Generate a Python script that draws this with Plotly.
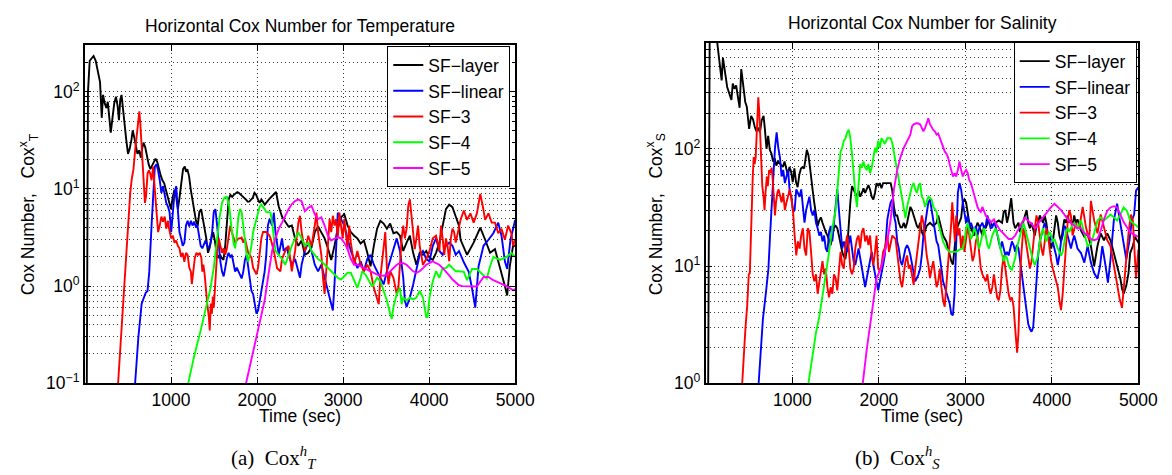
import plotly.graph_objects as go

# ---------------- Left panel: Horizontal Cox number for Temperature ----------------
T_layer_t = [20,35,55,80,100,125,150,175,195,210,230,250,265,285,300,320,340,360,380,395,
 410,425,440,460,480,500,520,540,555,570,590,610,630,650,665,680,700,720,740,760,
 780,800,820,840,860,880,900,920,940,960,980,1000,1020,1040,1060,1080,1100,1120,1140,1160,
 1175,1190,1210,1230,1250,1270,1290,1310,1330,1350,1370,1390,1410,1430,1450,1470,1490,1510,1530,1550,
 1570,1590,1610,1630,1650,1670,1690,1710,1730,1750,1770,1790,1810,1830,1850,1870,1890,1910,1930,1950,
 1970,1990,2010,2030,2050,2070,2090,2138,2195,2221,2252,2290,2328,2366,2404,2442,2480,2518,2556,2595,
 2633,2671,2709,2747,2785,2824,2862,2900,2938,2976,3014,3052,3090,3128,3166,3204,3242,3281,3319,3357,
 3395,3433,3471,3509,3547,3585,3623,3661,3699,3738,3776,3814,3852,3890,3928,3966,4004,4042,4080,4119,
 4157,4195,4233,4271,4309,4347,4365,4441,4517,4594,4651,4708,4765,4822,4880,4907,4937,4975,5000]
T_layer_v = [0.05,100,209,224,234,209,166,126,54,93,76,68,79,54,38,54,76,89,71,51,
 83,93,68,43,32,23,26,32,40,35,28,23,25,21,26,30,27,22,18,16,
 17.5,19,20.5,19,15.5,13.8,12.3,11.5,9.8,8.3,7.2,6.2,8.3,9.8,8.3,6.2,8.3,12.3,16,17,
 15,16,13.5,9.8,7.8,5.8,4.7,4.2,5.8,6.2,4.9,3.9,3.1,2.2,2.5,3.1,3.6,2.9,2.2,1.95,
 2.1,1.95,1.86,2.6,4.9,7.8,8.7,8.3,8.7,9.1,9.3,9.1,8.7,8.3,8.1,7.8,7.4,7.4,7.8,8.1,
 9.1,8.7,7.8,7.2,7.8,7.2,6.9,7.8,8.9,9.3,6.6,5.2,4.6,4.1,4.2,3.1,2.6,2.95,2.1,2.2,
 2.5,3.6,4.1,3.6,3.1,2.45,1.86,2.6,3.9,5.1,5.5,4.2,3.6,3.3,3.1,2.75,2.95,2.2,1.6,2.6,
 3.9,4.7,4.4,3.9,4.4,3.5,3.6,3.3,2.3,2.8,3.3,2.2,1.66,2.2,2.1,2.3,1.95,1.86,2.2,2.8,
 4.2,6.2,6.9,6.5,5.2,4.2,3.0,2.1,2.8,4.0,3.0,2.2,2.4,1.6,1.0,0.8,1.6,2.6,2.6]

T_linear_t = [583,621,659,705,727,747,774,793,812,831,850,869,888,907,926,945,964,983,1002,1022,
 1041,1060,1079,1098,1117,1136,1155,1174,1193,1212,1231,1250,1269,1288,1307,1326,1345,1364,1383,1402,
 1421,1440,1459,1478,1497,1516,1536,1555,1574,1593,1612,1631,1650,1669,1688,1707,1726,1745,1764,1783,
 1802,1821,1840,1859,1878,1897,1916,1935,1954,1974,1993,2012,2031,2050,2069,2088,2107,2126,2145,2175,
 2195,2214,2252,2290,2309,2347,2366,2404,2442,2480,2499,2518,2556,2595,2633,2671,2709,2747,2785,2824,
 2862,2881,2900,2919,2938,2976,3014,3052,3090,3128,3166,3204,3242,3281,3319,3357,3395,3433,3471,3509,
 3547,3585,3623,3661,3699,3718,3738,3776,3814,3852,3890,3928,3966,4004,4042,4080,4119,4157,4195,4233,
 4271,4309,4347,4403,4460,4498,4536,4574,4632,4689,4746,4803,4841,4880,4907,4945,5000]
T_linear_v = [0.1,0.3,0.66,0.85,0.89,1.4,4.2,8.3,17,18,15.5,12.3,9.1,10.7,8.3,7.2,6.6,5.8,3.6,5.8,
 9.1,10.7,6.6,3.6,3.1,2.6,2.8,4.2,4.7,4.1,4.7,4.2,4.6,4.1,4.2,3.1,2.6,2.45,2.75,2.95,
 2.6,2.45,2.8,3.6,5.8,6.2,4.2,2.6,1.78,1.41,1.26,1.55,1.95,2.2,2.0,2.1,1.66,1.41,1.55,1.41,
 1.26,1.2,1.41,1.86,2.1,1.55,1.05,0.89,0.83,0.66,0.52,0.56,0.71,0.83,1.05,1.41,2.1,4.2,4.9,4.2,
 5.7,3.6,2.1,3.1,2.3,2.5,2.1,1.66,1.9,1.42,1.22,1.66,2.3,2.8,2.3,1.66,1.42,1.66,1.22,0.89,
 0.65,0.56,1.04,2.6,5.7,4.9,4.2,3.1,2.3,1.9,1.53,1.8,1.42,1.9,2.1,1.66,1.42,1.22,1.04,1.42,
 1.8,2.4,3.1,2.3,1.22,0.71,0.61,0.76,1.04,1.53,2.1,2.3,1.9,1.8,2.6,3.1,2.3,2.1,2.6,2.8,
 2.6,2.1,2.3,1.76,1.4,0.95,0.6,1.6,2.6,3.0,3.5,4.5,3.3,1.8,1.5,3.0,4.8]

T_sf3_t = [385,431,469,488,507,526,545,564,583,602,621,632,644,659,670,682,697,709,728,743,
 758,774,793,812,831,850,869,888,907,926,945,964,983,1002,1022,1041,1060,1079,1098,1117,
 1136,1155,1174,1193,1212,1231,1242,1258,1277,1296,1315,1334,1353,1364,1376,1391,1406,1421,1440,1450,
 1463,1475,1486,1497,1509,1520,1536,1555,1574,1593,1612,1631,1650,1669,1688,1707,1726,1745,1764,1783,
 1802,1821,1840,1859,1878,1897,1916,1935,1954,1974,1993,2012,2031,2050,2069,2107,2145,2157,2195,2233,
 2271,2290,2328,2366,2404,2442,2480,2499,2518,2556,2595,2633,2671,2690,2709,2747,2766,2785,2804,2824,
 2843,2862,2881,2900,2919,2938,2957,2976,2995,3014,3033,3052,3071,3090,3128,3166,3204,3242,3281,3319,
 3357,3395,3414,3433,3471,3490,3509,3528,3547,3585,3623,3642,3661,3680,3699,3718,3738,3757,3776,3795,
 3814,3833,3852,3871,3890,3928,3966,4004,4042,4080,4119,4138,4157,4176,4195,4214,4233,4252,4271,4290,
 4309,4365,4403,4441,4479,4517,4555,4594,4624,4651,4689,4727,4765,4803,4841,4880,4918,4956,4975,5000]
T_sf3_v = [0.1,0.45,1.41,2.8,4.7,9.1,12.9,16,25,36,54,63,46,27,19.5,10.5,7.2,8.3,14.5,15.5,
 14.5,12.3,17,9.8,5.2,3.6,4.2,5.2,4.6,5.2,3.9,4.7,3.7,3.1,3.3,2.8,2.95,2.6,2.45,2.0,
 2.2,1.78,2.2,2.1,1.55,1.41,1.05,1.41,1.95,2.2,2.1,2.2,1.95,1.41,1.66,1.32,0.89,0.66,0.48,0.35,
 0.66,0.52,0.78,0.6,0.89,1.41,2.2,3.1,2.6,2.2,2.45,2.1,2.45,3.3,4.2,3.6,3.1,2.8,2.95,3.1,
 3.1,3.16,2.8,3.1,2.6,2.2,2.1,1.95,1.55,1.41,1.32,1.55,2.2,3.1,3.6,3.6,3.3,3.1,2.3,1.53,
 1.42,1.9,2.3,2.6,1.42,2.3,4.5,5.3,3.6,2.3,3.3,2.6,4.2,5.7,3.6,2.1,1.22,0.83,1.42,3.1,
 4.9,3.6,5.3,4.2,4.9,3.1,5.7,4.2,3.1,4.9,3.6,2.4,4.2,2.8,1.66,2.3,1.66,1.42,1.66,1.42,
 0.96,0.71,0.65,1.22,2.6,3.6,1.53,1.04,1.42,1.22,0.83,0.96,1.66,3.1,4.2,3.1,3.9,6.7,7.8,4.9,
 3.1,2.4,3.1,4.2,2.6,1.66,1.9,2.3,3.1,3.3,2.3,4.2,3.1,2.1,3.1,2.6,1.8,3.1,3.9,3.6,
 2.8,4.8,6.0,4.8,5.6,4.5,5.6,8.9,6.6,4.8,5.6,4.5,4.5,3.5,3.9,3.0,4.2,3.5,2.6,3.0]

T_sf4_t = [1200,1269,1345,1402,1459,1497,1536,1566,1593,1620,1650,1677,1700,1726,1745,1764,1783,1802,1821,1840,
 1859,1878,1897,1916,1935,1954,1974,1993,2012,2031,2050,2069,2088,2107,2126,2157,2175,2195,2214,2252,
 2290,2328,2366,2404,2442,2480,2518,2556,2595,2633,2671,2709,2747,2785,2824,2862,2900,2938,2976,3014,
 3052,3090,3128,3166,3204,3223,3262,3300,3338,3395,3433,3471,3509,3547,3566,3585,3623,3661,3680,3699,
 3738,3776,3814,3852,3890,3928,3966,3981,4004,4042,4080,4119,4157,4195,4233,4271,4309,4347,4403,4441,
 4498,4555,4613,4670,4708,4746,4822,4899,4956,5000]
T_sf4_v = [0.1,0.19,0.35,0.56,0.95,1.55,3.1,5.2,7.2,8.1,8.3,6.6,4.2,2.8,2.45,3.3,5.2,6.2,5.8,3.9,
 2.6,2.1,1.78,2.1,2.6,3.6,4.2,4.7,5.8,6.6,6.9,6.6,6.2,5.8,5.8,5.7,4.5,3.1,2.3,2.1,
 1.9,1.66,2.1,2.6,3.1,3.6,3.1,2.6,2.8,2.3,2.1,1.9,1.8,1.66,1.53,1.42,1.31,1.22,1.17,1.27,
 1.37,1.37,1.12,0.96,1.22,1.42,1.31,1.12,0.99,1.22,1.12,0.89,0.71,0.52,0.46,0.61,0.83,0.96,0.65,0.76,
 0.71,0.76,0.73,0.76,0.89,0.76,0.48,0.48,0.76,1.12,1.42,1.22,1.53,1.53,1.66,1.53,1.42,1.42,1.4,1.15,
 1.5,1.5,1.35,1.2,1.6,2.0,1.86,2.0,2.2,2.0]

T_sf5_t = [1872,1916,1974,2031,2088,2138,2175,2214,2252,2290,2328,2366,2404,2442,2480,2518,2556,2595,2633,2671,
 2709,2747,2785,2824,2862,2900,2938,2976,3014,3052,3090,3128,3166,3204,3242,3281,3319,3357,3395,3433,
 3471,3509,3547,3585,3623,3661,3699,3738,3776,3814,3852,3890,3928,3966,4004,4042,4080,4119,4157,4195,
 4233,4271,4309,4347,4385,4498,4555,4632,4689,4746,4822,4899,4975,5000]
T_sf5_v = [0.1,0.15,0.26,0.41,0.71,1.42,2.3,3.1,3.9,4.5,5.3,6.2,7.0,7.5,7.8,7.5,5.9,6.4,6.7,5.5,
 4.9,5.1,4.2,3.3,2.95,3.1,3.2,3.1,2.8,2.4,1.9,1.66,1.66,1.6,1.53,1.48,1.42,1.37,1.31,1.29,
 1.28,1.31,1.42,1.53,1.66,1.72,1.72,1.66,1.53,1.42,1.37,1.42,1.53,1.66,1.72,1.8,1.72,1.66,1.53,1.42,
 1.29,1.17,1.08,1.02,1.0,0.99,0.99,1.24,1.24,1.15,1.07,1.0,0.91,0.93]

# ---------------- Right panel: Horizontal Cox number for Salinity ----------------
S_layer_t = [25,45,110,133,170,182,197,246,295,311,330,350,371,390,409,436,455,473,500,523,
 545,564,583,605,625,644,667,682,701,720,739,758,777,795,814,833,852,871,890,909,
 928,947,966,985,1004,1023,1042,1061,1080,1099,1118,1136,1167,1186,1205,1220,1235,1250,1273,1292,
 1311,1330,1348,1367,1386,1405,1424,1443,1462,1481,1500,1519,1538,1557,1576,1595,1614,1633,1652,1670,
 1689,1708,1727,1746,1765,1784,1803,1822,1841,1860,1879,1898,1917,1936,1955,1973,1992,2011,2030,2049,
 2068,2098,2136,2155,2174,2193,2212,2231,2250,2269,2288,2307,2326,2364,2383,2402,2439,2458,2477,2496,
 2515,2553,2591,2629,2667,2686,2705,2742,2780,2799,2818,2837,2856,2875,2894,2913,2932,2951,2970,2989,
 3008,3027,3045,3064,3083,3102,3121,3140,3159,3178,3197,3216,3235,3273,3311,3348,3386,3424,3443,3462,
 3481,3500,3519,3530,3545,3557,3576,3614,3633,3652,3689,3708,3727,3746,3765,3784,3803,3822,3841,3860,
 3879,3898,3917,3936,3955,3973,3992,4011,4030,4049,4068,4087,4106,4125,4144,4163,4182,4201,4220,4239,
 4258,4277,4296,4337,4375,4412,4451,4489,4527,4564,4602,4640,4678,4716,4754,4792,4811,4830,4860,4886,
 4905,4936,4962,5000]
S_layer_v = [0.5,1500,1100,800,494,383,600,337,261,361,325,347,275,224,479,339,251,229,148,191,
 178,155,141,151,138,174,191,148,100,129,98,91,78,83,72,78,75,72,70,78,
 68,60,70,64,52,68,52,47,60,68,70,68,98,88,68,52,44,36,27,22,
 24.5,26,23.4,21,19.5,18.2,16.2,15.1,18.2,21.4,22,21,18.2,15.1,13.2,12,11.7,14.1,23.4,35,
 48,45,42,39,44,39,42,46,42,46,49,45,39,37,42,51,48,51,46,51,
 51,51,51,44,32,27,27,23.4,21.4,21.4,23.4,21,23.4,32,30,27,22,21,23.4,19.5,
 18.2,22,23.4,22,23.4,27,23.4,18.2,16.2,14.1,12.3,11,10.3,14.1,19.5,22,23.4,25.7,35,37,
 35,27,23.4,21,19.5,18.2,21,23.4,22,19.5,18.2,22,21,25,22,23.4,24.5,23.4,29,30,
 23.4,27,32,38,29,23.4,21,23.4,19.5,21.4,27,30,23.4,21,23.4,21,18.2,22,23.4,27,
 25,23.4,27,23.4,18.2,16.2,14.1,16.2,21,27,23.4,18.2,16.2,21,25,23.4,27,23.4,24.5,22,
 27,23.4,25,20,17.8,19,14.8,10,14.8,19,16.6,19,16.6,12.9,10,7.8,6.4,5.8,6.8,8.7,
 12.9,14.8,17.8,15.8]

S_linear_t = [610,659,697,723,742,761,780,799,818,837,856,875,894,913,932,951,970,989,1008,1026,
 1045,1064,1083,1102,1121,1140,1159,1178,1197,1216,1235,1254,1273,1292,1311,1330,1348,1367,1386,1405,
 1424,1443,1462,1481,1500,1519,1538,1557,1576,1595,1614,1633,1652,1670,1689,1708,1727,1746,1765,1784,
 1803,1822,1841,1860,1879,1898,1917,1936,1955,1973,1992,2011,2030,2049,2068,2080,2098,2117,2136,2155,
 2174,2193,2212,2231,2250,2269,2288,2307,2326,2345,2364,2383,2402,2420,2439,2458,2477,2496,2515,2534,
 2553,2572,2591,2610,2629,2648,2667,2686,2705,2723,2742,2761,2780,2799,2818,2837,2856,2875,2894,2913,
 2932,2951,2970,2989,3008,3027,3045,3064,3083,3102,3121,3140,3159,3178,3197,3216,3235,3254,3273,3292,
 3311,3330,3348,3367,3386,3405,3424,3443,3462,3481,3500,3519,3538,3557,3576,3595,3614,3633,3652,3670,
 3689,3708,3727,3746,3765,3784,3803,3822,3841,3860,3879,3898,3917,3936,3955,3973,3992,4011,4030,4049,
 4068,4087,4106,4125,4144,4163,4182,4201,4220,4239,4258,4277,4296,4337,4375,4413,4451,4489,4527,4557,
 4583,4621,4648,4678,4716,4754,4784,4822,4860,4898,4924,4951,4973,5000]
S_linear_v = [1.0,3.5,6.2,9.5,18.2,37,58,102,138,102,85,58,66,51,58,66,42,39,29,30,
 45,42,39,45,30,23.4,30,35,39,30,27,30,23.4,21,18.2,19.5,16.2,18.2,14.1,13.2,
 19.5,22,16.2,23.4,35,45,30,19.5,14.1,16.2,14.1,13.2,15.1,18.2,14.1,11,10.2,12.3,14.1,11.7,
 9.5,7.4,6.6,7.9,9.5,11,13.2,10.2,8.5,6.9,6.2,7.4,8.5,10.2,12.3,18.2,25,30,35,37,
 27,23.4,16.2,14,11,10.2,12.3,14.1,15.1,14.1,12.4,10.2,8.5,7.4,7.9,8.5,9.5,12.3,18.2,23.4,
 29,35,37,30,23.4,18.2,16.2,15.1,12.3,9.5,7.4,6.6,5.8,5.1,4.8,3.9,3.8,5.8,16.2,42,
 51,45,35,27,23.4,27,21,23.4,21,19.5,22,18.2,21,22,23.4,21,22,27,23.4,21,
 21.4,23.4,22,18.2,16.2,14.1,16.2,14.1,12.3,13.2,12.3,14.1,16.2,15.1,13.2,15.1,14.1,11,8.5,6.6,
 5.1,3.9,3.2,2.9,2.75,3.0,4.5,7.4,12.3,16.2,18.2,21,23.4,21,18.2,16.2,18.2,16.2,14.1,12.3,
 10.2,12.3,16.2,18.2,22,21,18.2,16.2,14.1,16.2,18.2,16.2,14.1,12.9,10.7,14.8,10.7,8.7,7.8,10,
 14.8,10,7.2,11.4,24.5,34,24.5,16.6,11.4,16.6,24.5,27.5,44,47]

S_sf3_t = [420,439,458,477,496,508,523,542,553,564,576,591,606,617,629,640,652,667,678,689,
 705,716,731,742,761,773,788,799,811,826,841,856,875,894,913,932,951,970,989,1008,
 1026,1045,1064,1083,1102,1121,1140,1159,1178,1197,1216,1235,1254,1273,1292,1311,1330,1348,1367,1386,
 1405,1424,1443,1462,1481,1500,1519,1538,1557,1576,1595,1614,1633,1652,1670,1689,1708,1727,1746,1765,
 1784,1803,1822,1841,1860,1879,1898,1917,1936,1955,1973,1992,2011,2030,2049,2068,2098,2117,2136,2155,
 2193,2212,2231,2250,2269,2288,2307,2326,2345,2364,2383,2402,2420,2439,2458,2477,2496,2515,2534,2553,
 2572,2591,2610,2629,2648,2667,2686,2705,2723,2742,2761,2780,2799,2818,2837,2848,2864,2879,2894,2913,
 2932,2951,2970,2989,3008,3027,3045,3064,3083,3102,3121,3140,3159,3178,3197,3235,3254,3273,3292,3311,
 3330,3348,3367,3386,3405,3424,3443,3462,3481,3500,3519,3538,3557,3576,3587,3598,3614,3625,3636,3652,
 3670,3689,3708,3727,3746,3765,3784,3803,3822,3841,3860,3879,3898,3917,3936,3955,3973,3992,4011,4030,
 4049,4068,4087,4106,4125,4144,4163,4182,4201,4220,4239,4258,4277,4296,4318,4356,4394,4432,4451,4489,
 4527,4564,4602,4640,4678,4716,4754,4784,4811,4837,4860,4886,4913,4936,4962,4973,5000]
S_sf3_v = [1.0,1.82,3.0,4.5,8.5,8.7,23.4,58,85,74,85,170,275,209,123,74,48,39,30,42,
 58,48,66,62,69,54,35,27,35,42,45,39,35,42,30,35,39,45,37,29,
 18.2,12.3,16.2,14.1,18.2,21,14.1,12.3,21,19.5,13.2,8.5,7.4,8.5,5.8,7.4,9.5,11,8.5,9.5,
 6.6,5.4,6.6,5.8,8.5,7.9,6.2,9.5,13.2,10.2,9.5,15.1,18.2,14.1,9.5,8.5,9.5,14.1,17,18.2,
 14.1,19.5,21,16.2,18.2,15.1,18.2,12.3,10.2,13.2,18.2,9.5,9.1,10.2,13.2,14.1,18.2,13.2,16.2,18.2,
 17,12.3,9.5,7.4,6.6,8.5,11,12.3,9.5,10.2,8.5,6.9,9.5,12.3,16.2,21,27,23.4,16.2,12.3,
 10.2,7.9,9.5,11,8.5,6.6,7.4,9.5,6.6,5.1,4.5,6.6,11,16.2,23.4,35,23.4,16.2,27,18.2,
 21,14.1,18.2,13.2,17,22,18.2,13.2,11,12.3,16.2,18.2,13.2,9.5,8.5,7.4,8.5,6.6,5.8,6.6,
 8.5,6.6,5.4,5.1,6.2,9.5,12.3,9.5,7.4,5.8,5.1,5.4,4.5,3.2,2.3,1.82,2.7,5.1,9.5,14.1,
 21,18.2,14.1,11,9.5,11,16.2,21,27,23.4,18.2,14.1,12.3,16.2,21,18.2,14.1,11,9.5,8.5,
 7.4,6.6,5.1,4.2,5.8,9.5,16.2,23.4,30,27,18.2,21,23.4,21,21.4,32,21.4,16.6,36,24.5,
 19,27.5,21.4,16.6,14.8,10,6.8,5.2,4.4,6.8,11.4,19,27.5,24.5,10,7.8,13.8]

S_sf4_t = [1186,1235,1273,1311,1348,1386,1424,1462,1500,1519,1538,1557,1576,1595,1614,1633,1652,1670,1689,1708,
 1727,1746,1765,1784,1803,1822,1841,1860,1879,1898,1917,1936,1955,1973,1992,2011,2030,2049,2068,2098,
 2136,2155,2174,2193,2212,2231,2250,2269,2288,2307,2326,2345,2364,2383,2402,2420,2439,2458,2477,2496,
 2515,2534,2553,2572,2591,2610,2629,2648,2667,2686,2705,2723,2742,2780,2818,2856,2894,2932,2970,2989,
 3008,3027,3045,3064,3083,3102,3121,3140,3159,3178,3197,3216,3235,3254,3273,3311,3348,3386,3405,3424,
 3443,3462,3481,3500,3519,3538,3557,3576,3595,3614,3633,3652,3670,3689,3708,3727,3746,3765,3784,3803,
 3822,3841,3860,3879,3898,3917,3936,3955,3973,3992,4011,4030,4049,4068,4087,4106,4125,4144,4163,4182,
 4201,4220,4239,4258,4277,4296,4337,4375,4413,4451,4489,4527,4564,4602,4640,4678,4716,4754,4792,4830,
 4868,4905,4943,5000]
S_sf4_v = [1.0,1.82,2.7,3.7,5.4,8.5,13.2,21,30,42,66,95,102,117,123,138,145,123,91,58,
 42,32,54,74,69,78,69,66,74,62,69,85,102,93,117,102,123,117,110,123,
 123,112,95,79,66,54,45,37,30,25.7,32,37,42,48,51,45,42,48,51,39,
 37,32,35,39,38,37,32,30,29,23.4,21,18.2,16.2,14.1,13.2,13.2,13.2,13.8,14.1,16.2,
 21,23.4,19.5,17,18.2,21,19.5,16.2,14.1,16.2,18.2,21,18.2,15.1,14.1,18.2,21,17,14.1,12.3,
 11,12.3,11.7,10.2,9.5,9.3,10.2,11.7,14.1,16.2,18.2,21,23.4,21,18.2,16.2,14.1,12.3,11,10.2,
 11,12.3,16.2,18.2,21,18.2,16.2,18.2,19.5,18.2,16.2,17,15.1,14.1,13.2,12.3,13.2,16.2,19.5,21,
 19.5,21,22,23.4,22,21,24.5,19,14.8,15.5,19,24.5,26,24.5,26,27.5,26,24.5,27.5,31.6,
 29.5,24.5,23,21.4]

S_sf5_t = [1814,1860,1917,1973,2023,2060,2098,2136,2174,2212,2250,2288,2326,2364,2383,2402,2439,2477,2496,2515,
 2534,2553,2572,2591,2610,2629,2648,2667,2686,2705,2723,2742,2761,2780,2799,2818,2837,2856,2875,2894,
 2913,2932,2951,2970,2989,3008,3027,3045,3064,3083,3102,3121,3140,3159,3178,3197,3216,3235,3254,3273,
 3292,3311,3330,3348,3367,3386,3405,3424,3443,3462,3500,3538,3576,3614,3652,3689,3727,3765,3803,3822,
 3841,3879,3917,3955,3992,4030,4068,4106,4144,4182,4220,4258,4296,4337,4375,4413,4451,4489,4527,4564,
 4602,4640,4678,4716,4754,4792,4830,4868,4905,4943,5000]
S_sf5_v = [1.0,1.95,3.9,7.9,9.5,12.3,16.2,25,45,66,85,102,117,132,155,162,166,162,151,141,
 151,170,182,162,151,145,141,132,135,123,117,102,95,91,85,74,66,58,62,58,
 66,78,66,58,63,66,62,54,51,45,39,35,32,30,29,32,29,27,25.7,25,
 23.4,24.5,25,23.4,22,21,20,19.5,19,18.2,17,17,18.2,21,23.4,25.7,24.5,23,21,21.4,
 23,25,27.5,30,32,34,32,30,27.5,25,23.4,22,21,21,19,18.6,17,16.6,17,20,
 25,29.5,31.6,32.4,31.6,27.5,23.7,21.4,19.5,18.6,17.8]

series_names = ["SF\u2212layer", "SF\u2212linear", "SF\u22123", "SF\u22124", "SF\u22125"]
series_colors = ["#000000", "#0000ff", "#ff0000", "#00ff00", "#ff00ff"]
x_ticks = [1000, 2000, 3000, 4000, 5000]

left_series = [(T_layer_t, T_layer_v), (T_linear_t, T_linear_v), (T_sf3_t, T_sf3_v),
               (T_sf4_t, T_sf4_v), (T_sf5_t, T_sf5_v)]
right_series = [(S_layer_t, S_layer_v), (S_linear_t, S_linear_v), (S_sf3_t, S_sf3_v),
                (S_sf4_t, S_sf4_v), (S_sf5_t, S_sf5_v)]

FONT = "Liberation Sans, Arial, Helvetica, sans-serif"
SERIF = "Liberation Serif, DejaVu Serif, serif"

fig = go.Figure()
for (t, v), name, col in zip(left_series, series_names, series_colors):
    fig.add_trace(go.Scatter(x=t, y=v, mode="lines", name=name, line=dict(color=col, width=1.9),
                             xaxis="x", yaxis="y", legend="legend"))
for (t, v), name, col in zip(right_series, series_names, series_colors):
    fig.add_trace(go.Scatter(x=t, y=v, mode="lines", name=name, line=dict(color=col, width=1.9),
                             xaxis="x2", yaxis="y2", legend="legend2"))

grid = dict(showgrid=True, gridcolor="#3a3a3a", griddash="1px,3px", gridwidth=1)
frame = dict(showline=True, linecolor="black", linewidth=2, mirror="allticks",
             ticks="inside", ticklen=6, tickcolor="black", zeroline=False,
             tickfont=dict(family=FONT, size=17.5, color="black"))

def minor_vals(decades):
    return [m * 10 ** k for k in decades for m in range(2, 10)]

legend_common = dict(xanchor="right", yanchor="top", bgcolor="white", bordercolor="black",
                     borderwidth=1, font=dict(family=FONT, size=17.5, color="black"),
                     itemwidth=30, tracegroupgap=0)

fig.update_layout(
    width=1172, height=475, autosize=False,
    margin=dict(l=0, r=0, t=0, b=0),
    paper_bgcolor="white", plot_bgcolor="white",
    font=dict(family=FONT, size=17, color="black"),
    xaxis=dict(domain=[78.3 / 1172, 516 / 1172], range=[0, 5000], tickvals=x_ticks,
               anchor="y", **grid, **frame),
    yaxis=dict(domain=[1 - 383.3 / 475, 1 - 38.3 / 475], type="log", range=[-1, 2.4771],
               tickvals=[0.1, 1, 10, 100],
               ticktext=["10<sup>\u22121</sup>", "10<sup>0</sup>", "10<sup>1</sup>", "10<sup>2</sup>"],
               anchor="x",
               minor=dict(tickvals=minor_vals([-1, 0, 1, 2]), ticks="inside", ticklen=3,
                          tickcolor="black", showgrid=True, gridcolor="#3a3a3a",
                          griddash="1px,3px", gridwidth=1),
               **grid, **frame),
    xaxis2=dict(domain=[710 / 1172, 1150 / 1172], range=[0, 5000], tickvals=x_ticks,
                anchor="y2", **grid, **frame),
    yaxis2=dict(domain=[1 - 383.3 / 475, 1 - 35.7 / 475], type="log", range=[0, 2.9031],
                tickvals=[1, 10, 100],
                ticktext=["10<sup>0</sup>", "10<sup>1</sup>", "10<sup>2</sup>"],
                anchor="x2",
                minor=dict(tickvals=minor_vals([0, 1, 2]), ticks="inside", ticklen=3,
                           tickcolor="black", showgrid=True, gridcolor="#3a3a3a",
                           griddash="1px,3px", gridwidth=1),
                **grid, **frame),
    legend=dict(x=511 / 1172, y=1 - 39 / 475, **legend_common),
    legend2=dict(x=1148.3 / 1172, y=1 - 35 / 475, **legend_common),
)

ann = []
def add_text(x, y, text, size, family=FONT, angle=0):
    ann.append(dict(x=x / 1172, y=1 - y / 475, xref="paper", yref="paper", text=text,
                    showarrow=False, xanchor="center", yanchor="middle", textangle=angle,
                    font=dict(family=family, size=size, color="black")))

add_text(297, 18, "Horizontal Cox Number for Temperature", 17.5)
add_text(930, 15, "Horizontal Cox Number for Salinity", 17.5)
add_text(297, 417, "Time (sec)", 17.5)
add_text(930, 417, "Time (sec)", 17.5)
add_text(21, 211, "Cox Number,   Cox<sup>x</sup><sub>T</sub>", 17.5, angle=-90)
add_text(659, 211, "Cox Number,   Cox<sup>x</sup><sub>S</sub>", 17.5, angle=-90)
add_text(271, 459, "(a)  Cox<sup><i>h</i></sup><sub><i>T</i></sub>", 21, family=SERIF)
add_text(905, 459, "(b)  Cox<sup><i>h</i></sup><sub><i>S</i></sub>", 21, family=SERIF)
fig.update_layout(annotations=ann)

fig.write_html("out.html")
